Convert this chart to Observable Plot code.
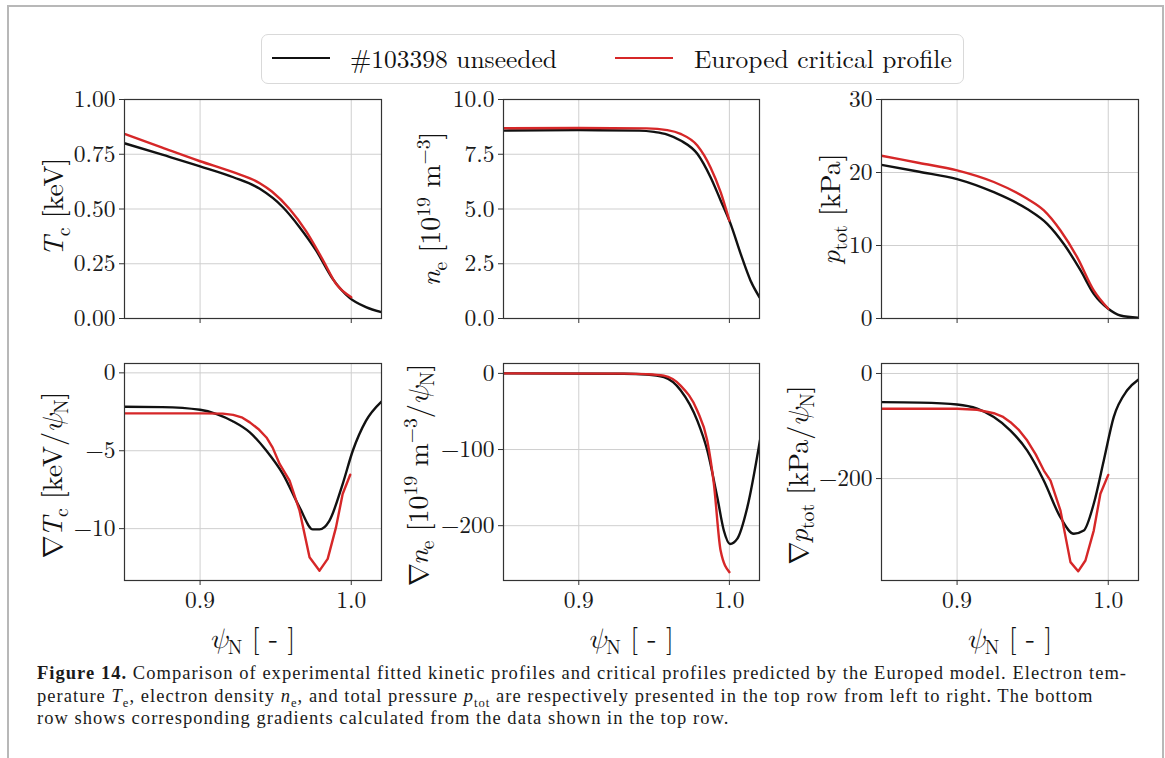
<!DOCTYPE html>
<html>
<head>
<meta charset="utf-8">
<script src="https://cdn.jsdelivr.net/npm/d3@7"></script>
<script src="https://cdn.jsdelivr.net/npm/@observablehq/plot@0.6"></script>
<style>
  html, body { margin: 0; padding: 0; background: #fff; }
  #fig { position: relative; width: 1165px; height: 758px; overflow: hidden;
         font-family: "Latin Modern Roman", "Liberation Serif", serif; color: #111; }
  #border { position: absolute; left: 7px; top: 5px; width: 1157px; height: 800px;
            border: 2px solid #b8b8b8; border-bottom: none; box-sizing: border-box; }
  .panel { position: absolute; }
  .panel svg { overflow: visible; }
  .lab { position: absolute; white-space: nowrap; font-size: 28px; line-height: 1;
         font-family: "Latin Modern Roman", "Liberation Serif", serif;
         transform: translate(-50%, -50%) rotate(-90deg); }
  .xlab { position: absolute; white-space: nowrap; font-size: 28px; line-height: 1; color: #111;
          font-family: "Latin Modern Roman", "Liberation Serif", serif;
          transform: translate(-50%, -50%); }
  .lab sub, .lab sup, .xlab sub, .xlab sup { font-size: 70%; line-height: 0; }
  .sym { font-family: "Latin Modern Math", "DejaVu Serif", serif; font-style: normal; margin-right: -2px; }
  .gk { font-family: "Latin Modern Math", "DejaVu Serif", serif; font-style: italic; }
  #legend { position: absolute; left: 261px; top: 34px; width: 703px; height: 50px;
            border: 1.3px solid #d9d9d9; border-radius: 7px; box-sizing: border-box; }
  .lg-line { position: absolute; height: 2.6px; }
  .lg-text { position: absolute; font-size: 25.5px; line-height: 1; white-space: nowrap;
             font-family: "Latin Modern Roman", "Liberation Serif", serif; }
  #caption { position: absolute; left: 37px; top: 662px; font-size: 18.5px; line-height: 22.5px;
             white-space: nowrap; color: #1a1a1a; }
  #caption sub { font-size: 68%; line-height: 0; }
</style>
</head>
<body>
<div id="fig">
  <div id="border"></div>
  <div id="legend"></div>
  <div id="caption"></div>
</div>
<script>
// ---- series names and colours ----
const seriesNames = ["#103398 unseeded", "Europed critical profile"];
const seriesColors = ["#111111", "#d62728"];

// ---- shared x axis (normalised poloidal flux) ----
const psiDomain = [0.85, 1.02];
const psiTicks = [0.9, 1.0];

// ---- electron temperature T [keV] ----
const psiTeExp = [0.85, 0.875, 0.90, 0.922, 0.9395, 0.9548, 0.9658, 0.9768, 0.9877, 0.9991, 1.0097, 1.02];
const teExp    = [0.800, 0.748, 0.695, 0.645, 0.592, 0.508, 0.417, 0.310, 0.181, 0.093, 0.052, 0.029];
const psiTeEur = [0.85, 0.875, 0.90, 0.9219, 0.9395, 0.9475, 0.9592, 0.970, 0.981, 0.9898, 1.0];
const teEur    = [0.843, 0.780, 0.718, 0.668, 0.618, 0.580, 0.500, 0.400, 0.270, 0.160, 0.097];

// ---- electron density n [1e19 m^-3] ----
const psiNeExp = [0.85, 0.90, 0.94, 0.95, 0.9588, 0.9676, 0.9787, 0.9875, 0.9942, 1.0008, 1.0075, 1.014, 1.02];
const neExp    = [8.58, 8.60, 8.58, 8.52, 8.40, 8.13, 7.52, 6.45, 5.39, 4.32, 2.95, 1.74, 0.97];
const psiNeEur = [0.85, 0.90, 0.945, 0.9588, 0.9676, 0.9787, 0.9875, 0.9942, 1.0];
const neEur    = [8.69, 8.70, 8.68, 8.60, 8.43, 7.90, 6.90, 5.77, 4.47];

// ---- total pressure p [kPa] ----
const psiPExp = [0.85, 0.875, 0.90, 0.9243, 0.9464, 0.9596, 0.9706, 0.9817, 0.9904, 1.0, 1.008, 1.02];
const pExp    = [21.05, 20.1, 19.1, 17.3, 15.0, 12.97, 10.2, 6.58, 3.38, 1.33, 0.41, 0.10];
const psiPEur = [0.85, 0.875, 0.90, 0.9243, 0.9464, 0.9574, 0.9684, 0.9794, 0.9904, 1.0];
const pEur    = [22.3, 21.3, 20.3, 18.7, 16.4, 14.8, 12.05, 8.4, 3.84, 1.33];

// ---- gradient of T [keV/psiN] ----
const psiDTeExp = [0.85, 0.875, 0.90, 0.911, 0.9219, 0.9329, 0.9439, 0.9548, 0.9658, 0.9746, 0.979, 0.9855, 0.9943, 1.001, 1.0097, 1.02];
const dTeExp    = [-2.18, -2.20, -2.37, -2.65, -3.12, -3.82, -5.0, -6.5, -8.63, -10.05, -10.05, -9.5, -7.14, -5.0, -3.08, -1.84];
const psiDTeEur = [0.85, 0.90, 0.915, 0.9219, 0.928, 0.9329, 0.9385, 0.9439, 0.948, 0.9526, 0.9592, 0.9658, 0.9724, 0.979, 0.9844, 0.9899, 0.9943, 0.9993];
const dTeEur    = [-2.6, -2.6, -2.62, -2.7, -2.88, -3.18, -3.6, -4.15, -4.8, -5.85, -6.92, -8.85, -11.84, -12.7, -11.94, -9.92, -7.78, -6.54];

// ---- gradient of n [1e19 m^-3/psiN] ----
const psiDNeExp = [0.85, 0.93, 0.945, 0.9565, 0.9676, 0.9787, 0.9853, 0.992, 0.9964, 1.0004, 1.0053, 1.0119, 1.0203];
const dNeExp    = [0, -0.5, -1.5, -4.9, -22, -62, -101, -163, -207, -224, -217, -176, -88];
const psiDNeEur = [0.85, 0.93, 0.945, 0.9565, 0.9676, 0.9787, 0.9853, 0.9897, 0.9942, 1.0];
const dNeEur    = [0, -0.3, -1, -3, -16, -49, -88, -145, -233, -261];

// ---- gradient of p [kPa/psiN] ----
const psiDPExp = [0.85, 0.875, 0.90, 0.9133, 0.9243, 0.9353, 0.9464, 0.9574, 0.9684, 0.9772, 0.9838, 0.9904, 0.997, 1.0036, 1.0125, 1.0198];
const dPExp    = [-54.6, -55.5, -59, -67, -83, -108.6, -146.7, -204, -274, -305, -299, -248, -166, -83, -32, -12];
const psiDPEur = [0.85, 0.90, 0.9133, 0.9243, 0.930, 0.9353, 0.941, 0.9464, 0.952, 0.9574, 0.9618, 0.9684, 0.975, 0.9801, 0.9849, 0.9904, 0.9948, 1.0];
const dPEur    = [-67, -67, -69, -75.6, -82, -92.7, -108, -127.6, -154, -184.8, -204, -261, -359, -376.5, -356, -299, -229, -193];

// ---- axis ticks and labels ----
const yTicksTe = [0, 0.25, 0.5, 0.75, 1.0];
const yTicksNe = [0, 2.5, 5.0, 7.5, 10.0];
const yTicksP  = [0, 10, 20, 30];
const yTicksDTe = [0, -5, -10];
const yTicksDNe = [0, -100, -200];
const yTicksDP  = [0, -200];
const PSI = '<span class="gk">\u03C8</span><sub>N</sub>';
const NABLA = '<span class="sym">\u2207</span>';
const yLabels = [
  '<i>T</i><sub>c</sub> [keV]',
  '<i>n</i><sub>e</sub> [10<sup>19</sup> m<sup>\u22123</sup>]',
  '<i>p</i><sub>tot</sub> [kPa]',
  NABLA + '<i>T</i><sub>c</sub> [keV/' + PSI + ']',
  NABLA + '<i>n</i><sub>e</sub> [10<sup>19</sup> m<sup>\u22123</sup>/' + PSI + ']',
  NABLA + '<i>p</i><sub>tot</sub> [kPa/' + PSI + ']'
];
const xLabel = PSI + ' [ - ]';
const captionLines = [
  '<b>Figure 14.</b> Comparison of experimental fitted kinetic profiles and critical profiles predicted by the Europed model. Electron tem-',
  'perature <i>T</i><sub>e</sub>, electron density <i>n</i><sub>e</sub>, and total pressure <i>p</i><sub>tot</sub> are respectively presented in the top row from left to right. The bottom',
  'row shows corresponding gradients calculated from the data shown in the top row.'
];

const zip = (xs, ys) => xs.map((x, i) => ({x, y: ys[i]}));

// panel frame boxes in page pixels
const cols = [[124, 381], [503, 759], [881, 1138]];
const rows = [[99, 318], [363, 580]];

const panels = [
  {c: 0, r: 0, dom: [0, 1], ticks: yTicksTe, fmt: ".2f", exp: zip(psiTeExp, teExp), eur: zip(psiTeEur, teEur), eurCurve: "monotone-x"},
  {c: 1, r: 0, dom: [0, 10], ticks: yTicksNe, fmt: ".1f", exp: zip(psiNeExp, neExp), eur: zip(psiNeEur, neEur), eurCurve: "monotone-x"},
  {c: 2, r: 0, dom: [0, 30], ticks: yTicksP, fmt: "d", exp: zip(psiPExp, pExp), eur: zip(psiPEur, pEur), eurCurve: "monotone-x"},
  {c: 0, r: 1, dom: [-13.33, 0.6], ticks: yTicksDTe, fmt: "d", exp: zip(psiDTeExp, dTeExp), eur: zip(psiDTeEur, dTeEur), eurCurve: "linear"},
  {c: 1, r: 1, dom: [-272, 13], ticks: yTicksDNe, fmt: "d", exp: zip(psiDNeExp, dNeExp), eur: zip(psiDNeEur, dNeEur), eurCurve: "monotone-x"},
  {c: 2, r: 1, dom: [-394, 19], ticks: yTicksDP, fmt: "d", exp: zip(psiDPExp, dPExp), eur: zip(psiDPEur, dPEur), eurCurve: "linear"}
];

const fig = document.getElementById("fig");
const ML = 110, MR = 12, MT = 14, MB = 40;

panels.forEach((p) => {
  const [x0, x1] = cols[p.c];
  const [y0, y1] = rows[p.r];
  const w = x1 - x0, h = y1 - y0;
  const bottom = p.r === 1;
  const chart = Plot.plot({
    width: ML + w + MR,
    height: MT + h + MB,
    marginLeft: ML, marginRight: MR, marginTop: MT, marginBottom: MB,
    style: {fontFamily: '"Latin Modern Roman", "Liberation Serif", serif', fontSize: "23.5px", color: "#1a1a1a", background: "transparent", overflow: "visible"},
    x: {domain: psiDomain},
    y: {domain: p.dom},
    marks: [
      Plot.gridX(psiTicks, {stroke: "#cfcfcf", strokeOpacity: 1, strokeWidth: 1}),
      Plot.gridY(p.ticks, {stroke: "#cfcfcf", strokeOpacity: 1, strokeWidth: 1}),
      Plot.line(p.exp, {x: "x", y: "y", stroke: seriesColors[0], strokeWidth: 2.4, curve: "monotone-x", clip: true}),
      Plot.line(p.eur, {x: "x", y: "y", stroke: seriesColors[1], strokeWidth: 2.4, curve: p.eurCurve, clip: true}),
      Plot.frame({stroke: "#333", strokeWidth: 1.2}),
      Plot.axisX(psiTicks, {tickSize: 5, tickPadding: 6, stroke: "#333",
        tickFormat: bottom ? d3.format(".1f") : () => "", label: null}),
      Plot.axisY(p.ticks, {tickSize: 5, tickPadding: 4, stroke: "#333",
        tickFormat: d3.format(p.fmt), label: null})
    ]
  });
  chart.style.fontFamily = '"Latin Modern Roman", "Liberation Serif", serif';
  const holder = document.createElement("div");
  holder.className = "panel";
  holder.style.left = (x0 - ML) + "px";
  holder.style.top = (y0 - MT) + "px";
  holder.appendChild(chart);
  fig.appendChild(holder);
});

// y-axis titles
const yLabelPos = [[51, 207], [428, 209], [828, 209], [51, 475], [417, 475], [797, 475]];
yLabels.forEach((html, i) => {
  const d = document.createElement("div");
  d.className = "lab";
  d.innerHTML = html;
  d.style.left = yLabelPos[i][0] + "px";
  d.style.top = yLabelPos[i][1] + "px";
  fig.appendChild(d);
});

// x-axis titles under the bottom row
cols.forEach(([x0, x1]) => {
  const d = document.createElement("div");
  d.className = "xlab";
  d.innerHTML = xLabel;
  d.style.left = ((x0 + x1) / 2) + "px";
  d.style.top = "637px";
  fig.appendChild(d);
});

// legend
const legend = document.getElementById("legend");
const legendItems = [{lineX: 10, textX: 88}, {lineX: 353, textX: 432}];
legendItems.forEach((it, i) => {
  const ln = document.createElement("div");
  ln.className = "lg-line";
  ln.style.left = it.lineX + "px";
  ln.style.top = "21.5px";
  ln.style.width = "58px";
  ln.style.background = seriesColors[i];
  legend.appendChild(ln);
  const tx = document.createElement("div");
  tx.className = "lg-text";
  tx.textContent = seriesNames[i];
  tx.style.left = it.textX + "px";
  tx.style.top = "10px";
  legend.appendChild(tx);
});

// caption in a book serif, stretched to the width of the text block
const caption = document.getElementById("caption");
caption.style.fontFamily = '"Liberation Serif", "Tinos", "Times New Roman"';
captionLines.forEach(html => {
  const d = document.createElement("div");
  d.innerHTML = html;
  caption.appendChild(d);
});
function fitCaption() {
  caption.style.letterSpacing = "0px";
  const first = caption.firstChild;
  first.style.display = "inline-block";
  const natural = first.getBoundingClientRect().width;
  first.style.display = "";
  const nChars = first.textContent.length;
  const spacing = Math.max(-0.5, Math.min(1.5, (1090 - natural) / nChars));
  caption.style.letterSpacing = spacing.toFixed(3) + "px";
}
fitCaption();
if (document.fonts && document.fonts.ready) document.fonts.ready.then(fitCaption);
</script>
</body>
</html>
